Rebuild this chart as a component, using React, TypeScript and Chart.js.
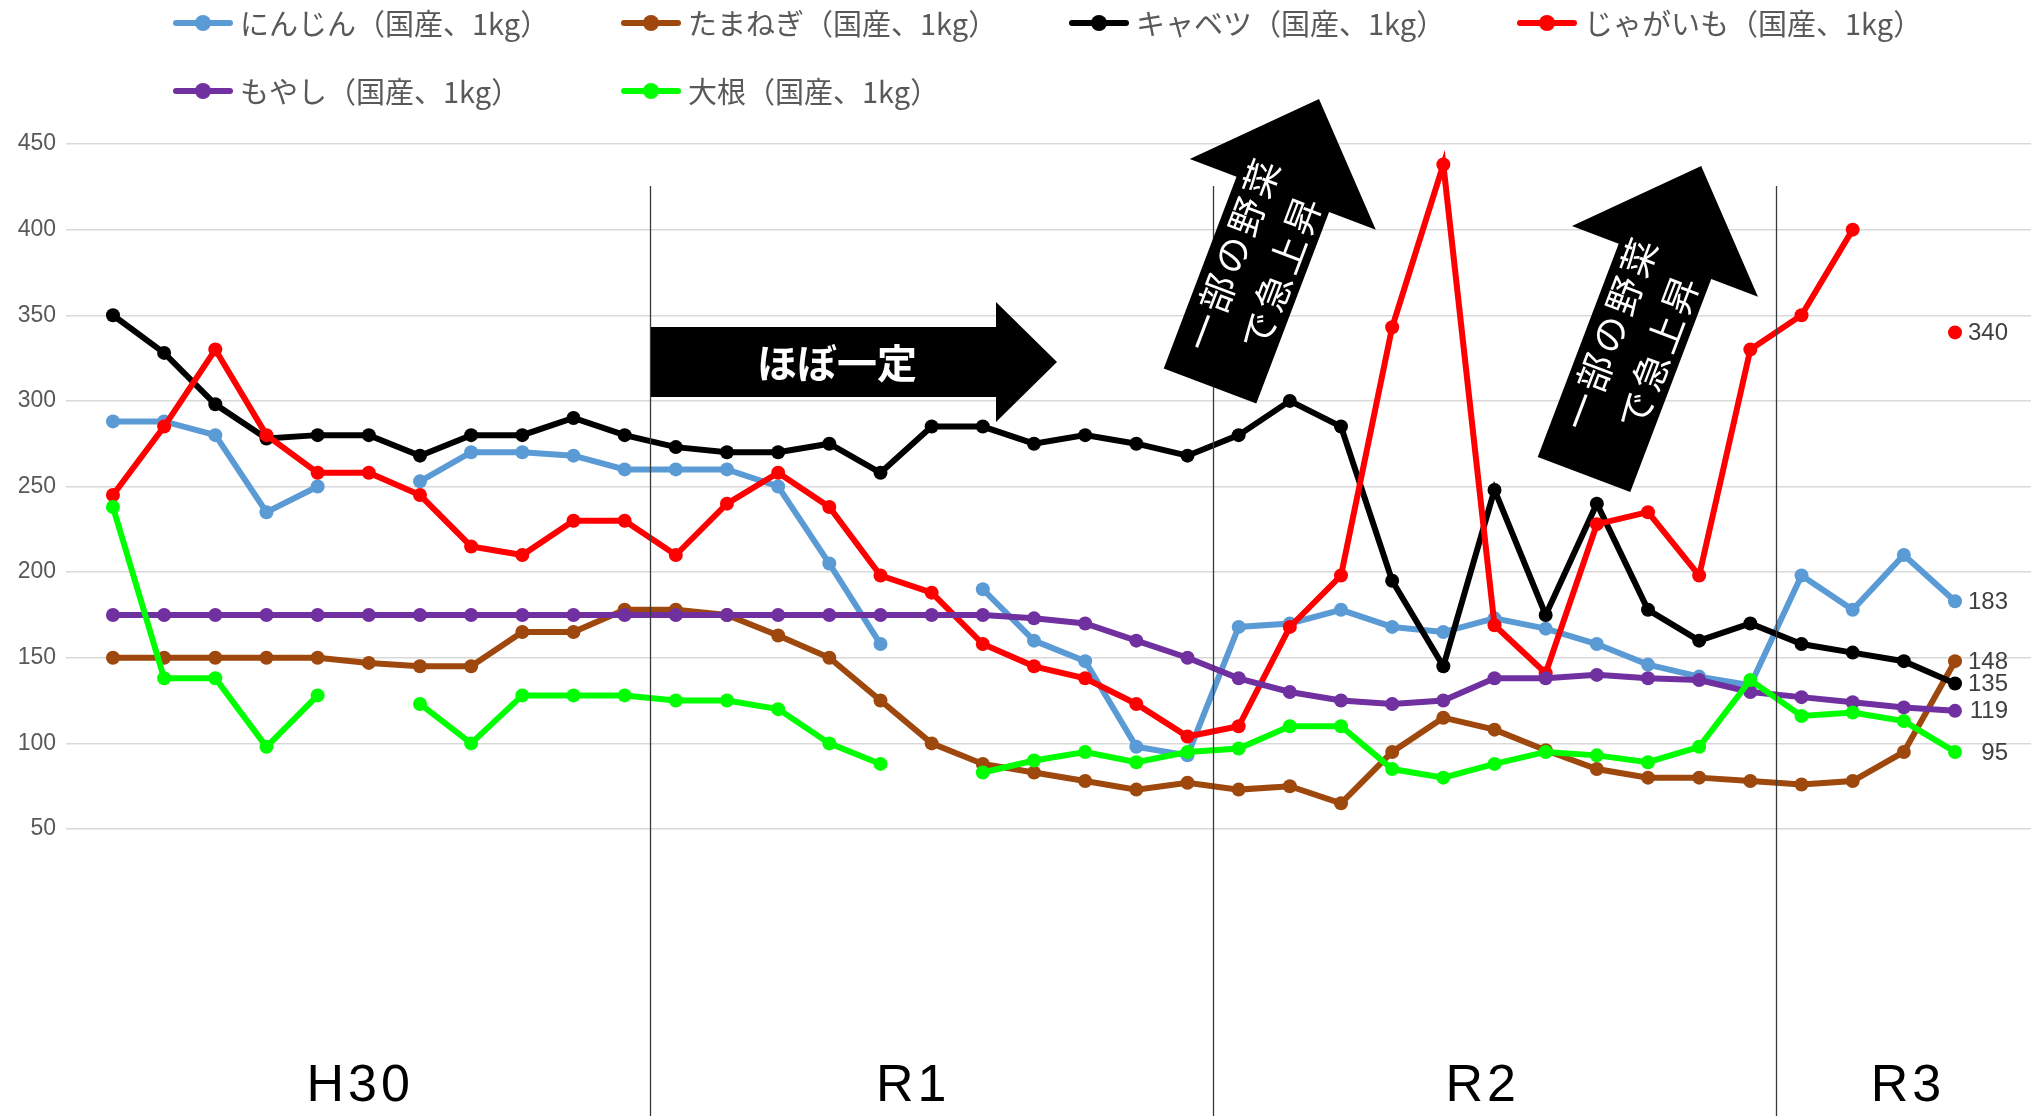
import { useEffect, useRef } from "react";
import { Chart, registerables } from "chart.js";

Chart.register(...registerables);

// Monthly retail prices (yen per kg), 37 months
const months = [
  "1", "2", "3", "4", "5", "6", "7", "8", "9", "10", "11", "12", "13",
  "14", "15", "16", "17", "18", "19", "20", "21", "22", "23", "24", "25",
  "26", "27", "28", "29", "30", "31", "32", "33", "34", "35", "36", "37",
];

const carrot = [288, 288, 280, 235, 250, null, 253, 270, 270, 268, 260, 260, 260, 250, 205, 158, null, 190, 160, 148, 98, 93, 168, 170, 178, 168, 165, 173, 167, 158, 146, 139, 134, 198, 178, 210, 183];
const onion = [150, 150, 150, 150, 150, 147, 145, 145, 165, 165, 178, 178, 175, 163, 150, 125, 100, 88, 83, 78, 73, 77, 73, 75, 65, 95, 115, 108, 96, 85, 80, 80, 78, 76, 78, 95, 148];
const cabbage = [350, 328, 298, 278, 280, 280, 268, 280, 280, 290, 280, 273, 270, 270, 275, 258, 285, 285, 275, 280, 275, 268, 280, 300, 285, 195, 145, 248, 175, 240, 178, 160, 170, 158, 153, 148, 135];
const potato = [245, 285, 330, 280, 258, 258, 245, 215, 210, 230, 230, 210, 240, 258, 238, 198, 188, 158, 145, 138, 123, 104, 110, 168, 198, 343, 438, 169, 141, 228, 235, 198, 330, 350, 400, null, 340];
const sprouts = [175, 175, 175, 175, 175, 175, 175, 175, 175, 175, 175, 175, 175, 175, 175, 175, 175, 175, 173, 170, 160, 150, 138, 130, 125, 123, 125, 138, 138, 140, 138, 137, 130, 127, 124, 121, 119];
const radish = [238, 138, 138, 98, 128, null, 123, 100, 128, 128, 128, 125, 125, 120, 100, 88, null, 83, 90, 95, 89, 95, 97, 110, 110, 85, 80, 88, 95, 93, 89, 98, 137, 116, 118, 113, 95];

const seriesNames = [
  "にんじん（国産、1kg）",
  "たまねぎ（国産、1kg）",
  "キャベツ（国産、1kg）",
  "じゃがいも（国産、1kg）",
  "もやし（国産、1kg）",
  "大根（国産、1kg）",
];
const seriesValues = [carrot, onion, cabbage, potato, sprouts, radish];
const seriesColors = ["#5B9BD5", "#9E480E", "#000000", "#FF0000", "#7030A0", "#00FF00"];

// Era periods along the month axis
const periodNames = ["H30", "R1", "R2", "R3"];
const periodCenters = [4.83, 15.64, 26.77, 35.08];
const periodDividers = [10.5, 21.5, 32.5];

const yTicks = { min: 50, max: 450, step: 50 };

const flatText = "ほぼ一定";
const riseText = ["一部の野菜", "で急上昇"];

const SANS = "'Liberation Sans', Arial, 'Noto Sans CJK JP', sans-serif";
const JP = "'Noto Sans CJK JP', 'Noto Sans', sans-serif";

// Callout shapes, in canvas pixels
const flatArrow = { x0: 651, x1: 996, tip: 1057, cy: 362, body: 70, head: 120 };
const riseArrows = [
  { x: 1210, y: 386, length: 307 },
  { x: 1584, y: 474.5, length: 330 },
];
const riseShape = { angle: (20.8 * Math.PI) / 180, body: 99, head: 199, headLen: 102 };

const overlay = {
  id: "overlay",
  afterDraw(chart: any) {
    const ctx: CanvasRenderingContext2D = chart.ctx;
    const xs = chart.scales.x;
    ctx.save();

    // period dividers
    ctx.strokeStyle = "#3a3a3a";
    ctx.lineWidth = 1.3;
    periodDividers.forEach((d) => {
      const x = Math.round(xs.getPixelForValue(d)) + 0.5;
      ctx.beginPath();
      ctx.moveTo(x, 186);
      ctx.lineTo(x, chart.height);
      ctx.stroke();
    });

    // period names
    ctx.fillStyle = "#000";
    ctx.font = `52px ${SANS}`;
    (ctx as any).letterSpacing = "4px";
    ctx.textAlign = "center";
    ctx.textBaseline = "middle";
    periodNames.forEach((p, i) => {
      ctx.fillText(p, xs.getPixelForValue(periodCenters[i]), 1087);
    });
    (ctx as any).letterSpacing = "0px";

    // value labels at the last month
    ctx.font = `24px ${SANS}`;
    ctx.fillStyle = "#404040";
    ctx.textAlign = "right";
    chart.data.datasets.forEach((ds: any, i: number) => {
      const meta = chart.getDatasetMeta(i);
      const last = ds.data.length - 1;
      const v = ds.data[last].y;
      if (v == null) return;
      const el = meta.data[last];
      ctx.fillText(String(v), el.x + 53, el.y + 1);
    });

    // legend
    const colX = [173, 621, 1069, 1517];
    const rowY = [23, 91];
    ctx.font = `29px ${JP}`;
    ctx.textAlign = "left";
    ctx.textBaseline = "middle";
    seriesNames.forEach((name, i) => {
      const x = colX[i % 4];
      const y = rowY[Math.floor(i / 4)];
      ctx.strokeStyle = seriesColors[i];
      ctx.fillStyle = seriesColors[i];
      ctx.lineWidth = 6;
      ctx.lineCap = "round";
      ctx.beginPath();
      ctx.moveTo(x + 3, y);
      ctx.lineTo(x + 57, y);
      ctx.stroke();
      ctx.beginPath();
      ctx.arc(x + 30, y, 8, 0, Math.PI * 2);
      ctx.fill();
      ctx.fillStyle = "#595959";
      ctx.fillText(name, x + 67, y + 1);
    });

    // horizontal callout
    const f = flatArrow;
    ctx.fillStyle = "#000";
    ctx.beginPath();
    ctx.moveTo(f.x0, f.cy - f.body / 2);
    ctx.lineTo(f.x1, f.cy - f.body / 2);
    ctx.lineTo(f.x1, f.cy - f.head / 2);
    ctx.lineTo(f.tip, f.cy);
    ctx.lineTo(f.x1, f.cy + f.head / 2);
    ctx.lineTo(f.x1, f.cy + f.body / 2);
    ctx.lineTo(f.x0, f.cy + f.body / 2);
    ctx.closePath();
    ctx.fill();
    ctx.fillStyle = "#fff";
    ctx.font = `bold 40px ${JP}`;
    ctx.textAlign = "center";
    ctx.fillText(flatText, 837, f.cy + 1);

    // rising callouts
    const s = riseShape;
    riseArrows.forEach((a) => {
      ctx.save();
      ctx.translate(a.x, a.y);
      ctx.rotate(s.angle);
      const neck = -(a.length - s.headLen);
      ctx.fillStyle = "#000";
      ctx.beginPath();
      ctx.moveTo(-s.body / 2, 0);
      ctx.lineTo(-s.body / 2, neck);
      ctx.lineTo(-s.head / 2, neck);
      ctx.lineTo(0, -a.length);
      ctx.lineTo(s.head / 2, neck);
      ctx.lineTo(s.body / 2, neck);
      ctx.lineTo(s.body / 2, 0);
      ctx.closePath();
      ctx.fill();
      ctx.rotate(-Math.PI / 2);
      ctx.fillStyle = "#fff";
      ctx.font = `37px ${JP}`;
      (ctx as any).letterSpacing = "4px";
      ctx.textAlign = "center";
      ctx.textBaseline = "middle";
      const along = a.length * 0.425 + 2;
      ctx.fillText(riseText[0], along, -26);
      ctx.fillText(riseText[1], along, 26);
      (ctx as any).letterSpacing = "0px";
      ctx.restore();
    });

    ctx.restore();
  },
};

export default function App() {
  const ref = useRef<HTMLCanvasElement>(null);

  useEffect(() => {
    const datasets = seriesNames.map((name, i) => ({
      label: name,
      data: seriesValues[i].map((v, k) => ({ x: k, y: v, m: months[k] })),
      borderColor: seriesColors[i],
      backgroundColor: seriesColors[i],
      pointBackgroundColor: seriesColors[i],
      pointBorderWidth: 0,
      pointRadius: 7,
      pointHoverRadius: 7,
      borderWidth: 6,
      tension: 0,
      spanGaps: false,
      order: -i,
    }));

    const chart = new Chart(ref.current!, {
      type: "line",
      data: { datasets },
      options: {
        animation: false,
        responsive: true,
        maintainAspectRatio: false,
        devicePixelRatio: 1,
        layout: { padding: { top: 144, right: 7, bottom: 287, left: 0 } },
        plugins: { legend: { display: false }, tooltip: { enabled: false } },
        scales: {
          x: { type: "linear", min: -0.918, max: 37.485, display: false },
          y: {
            min: yTicks.min,
            max: yTicks.max,
            ticks: {
              stepSize: yTicks.step,
              color: "#595959",
              padding: 10,
              font: { size: 23, family: SANS },
            },
            grid: { color: "#d9d9d9", lineWidth: 1.5, drawTicks: false },
            border: { display: false },
            afterFit: (sc: any) => {
              sc.width = 66;
            },
          },
        },
      } as any,
      plugins: [overlay],
    });
    return () => chart.destroy();
  }, []);

  return (
    <div style={{ position: "absolute", left: 0, top: 0, width: 2038, height: 1116, background: "#fff" }}>
      <canvas ref={ref} />
    </div>
  );
}
